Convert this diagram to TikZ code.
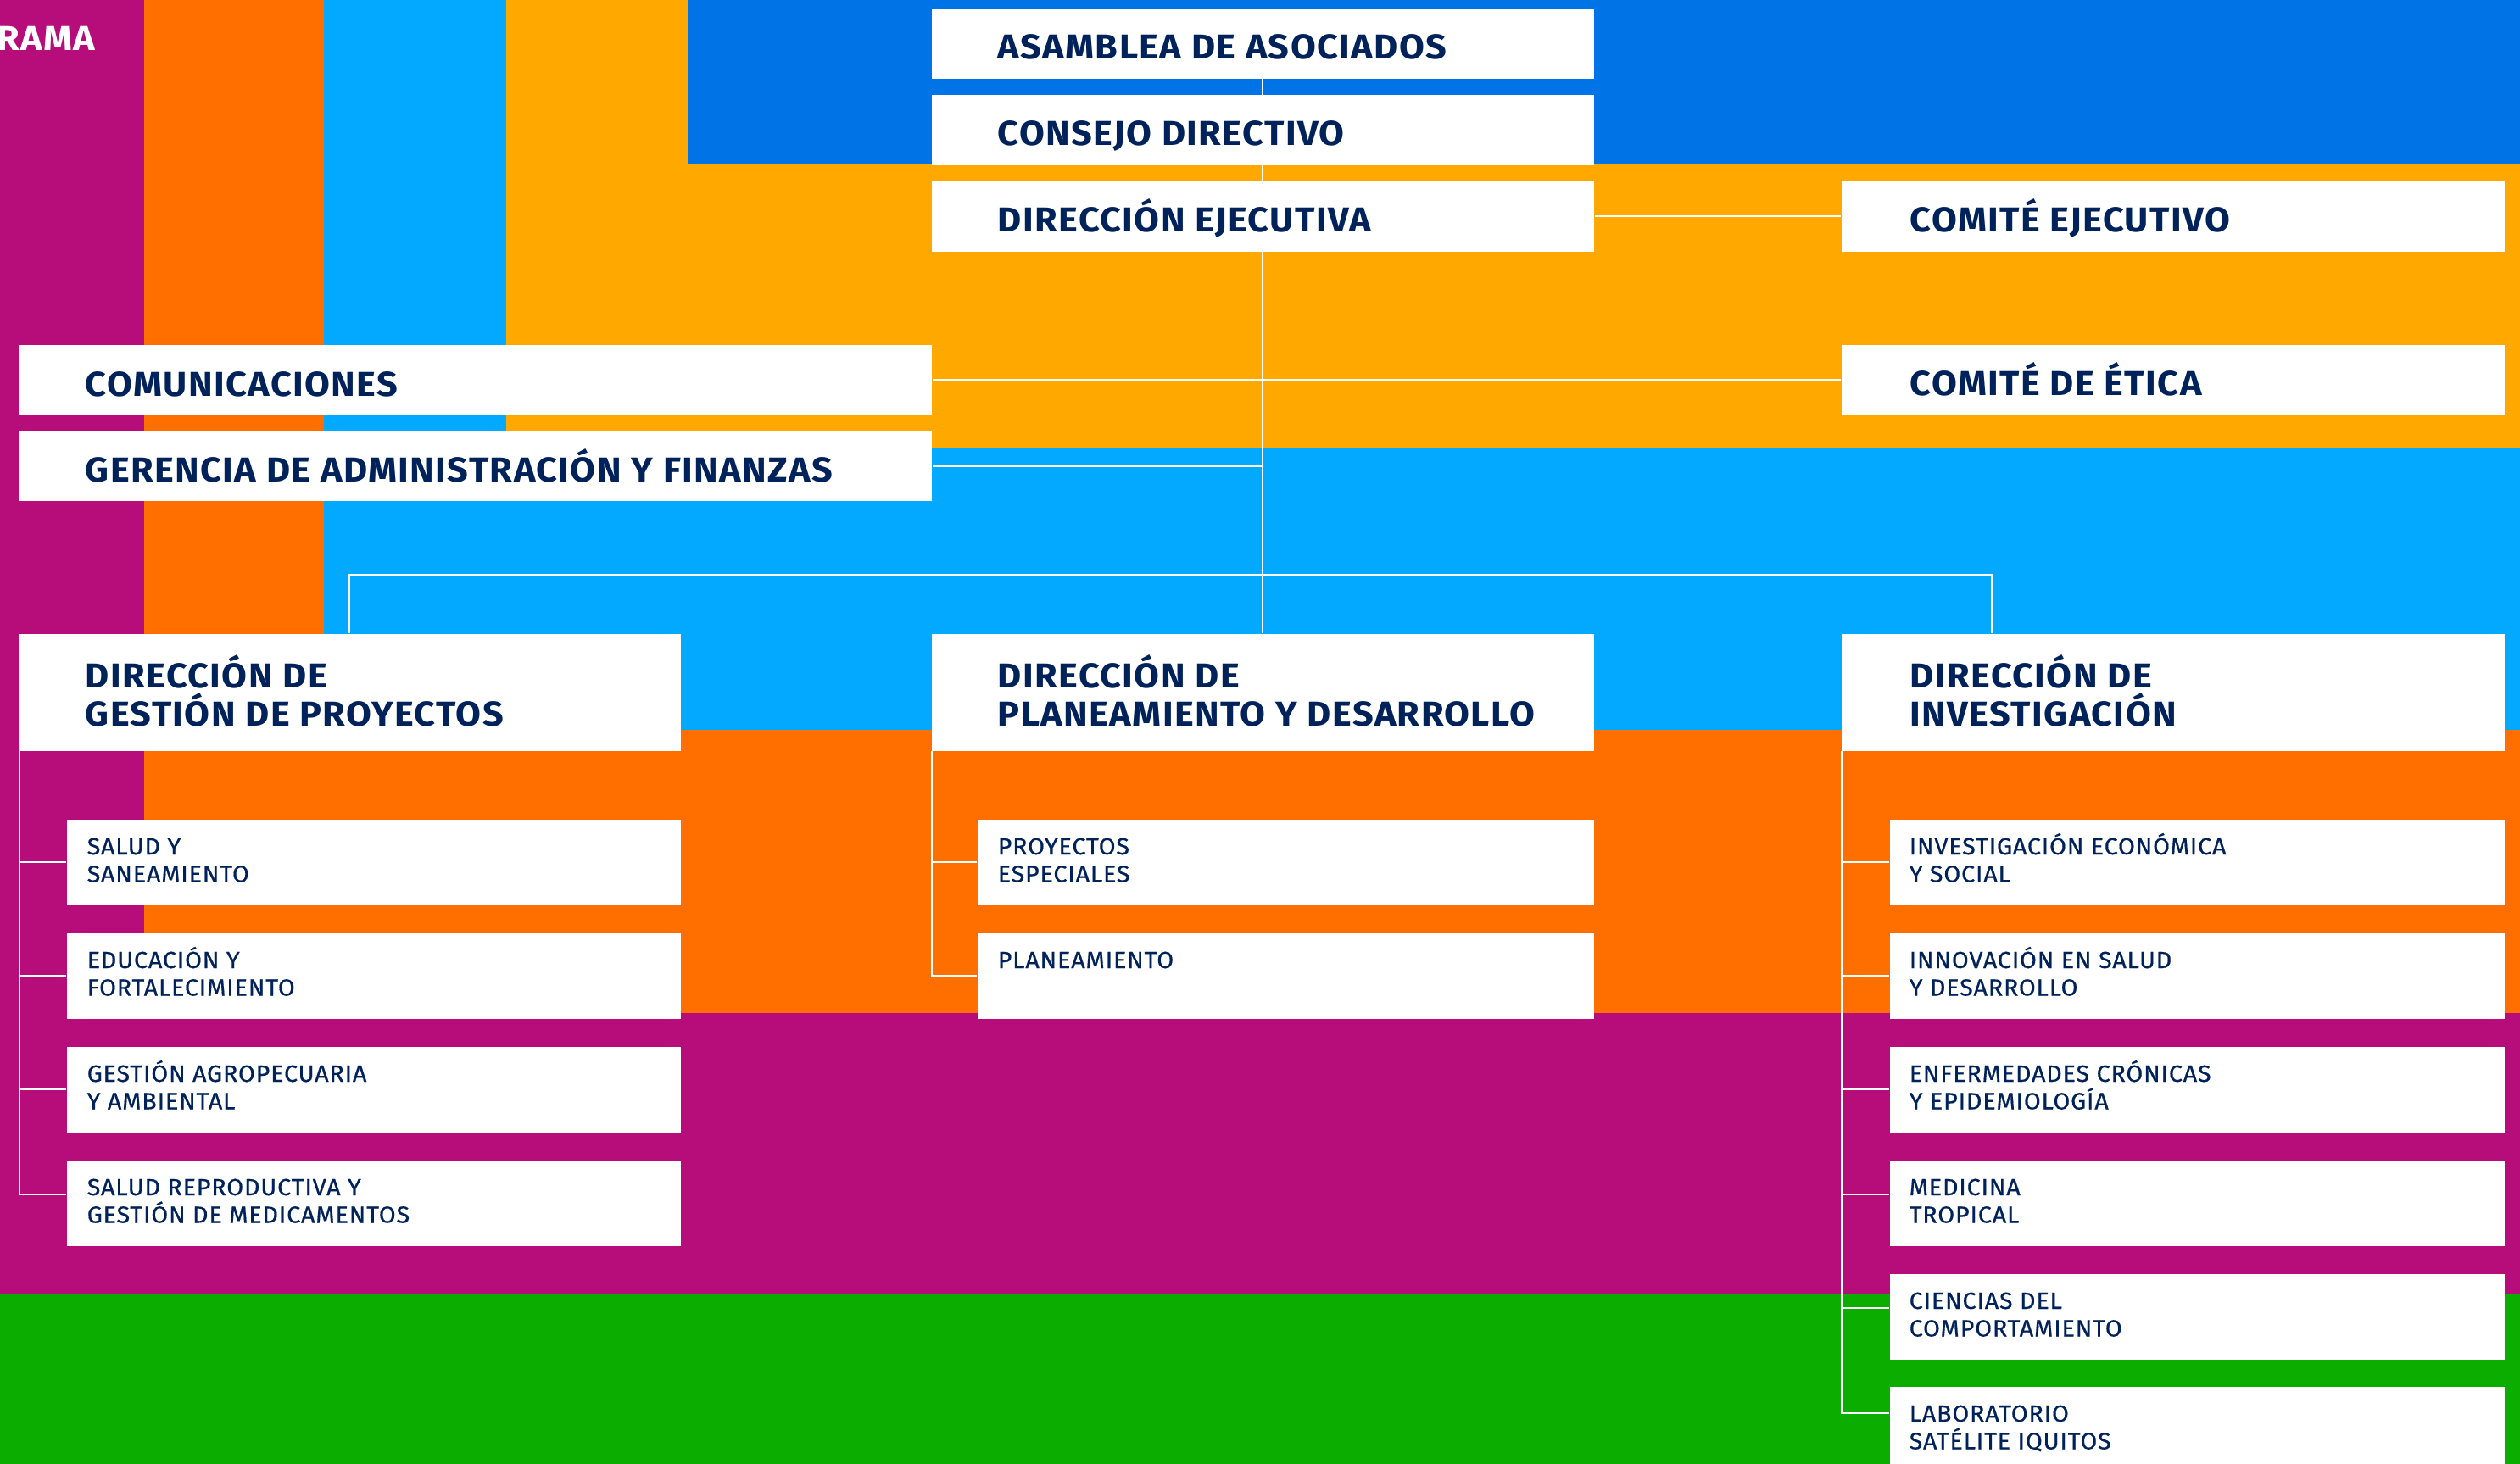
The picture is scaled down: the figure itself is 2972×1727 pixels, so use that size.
\documentclass[tikz,border=0pt]{standalone}
\usepackage{fontspec}
\setmainfont{Fira Sans}
\newfontfamily\hdfont{Fira Sans}[LetterSpace=3.5,FakeStretch=1.06]
\newfontfamily\sbfont{Fira Sans}[LetterSpace=3,FakeStretch=1.04,FakeBold=0.5]
\usetikzlibrary{calc}
\definecolor{cblue}{HTML}{0073E6}
\definecolor{camber}{HTML}{FFA800}
\definecolor{ccyan}{HTML}{03A8FF}
\definecolor{corange}{HTML}{FF6F00}
\definecolor{cpurple}{HTML}{B70D7B}
\definecolor{cgreen}{HTML}{0BAE00}
\definecolor{navy}{HTML}{00225B}
\pgfdeclarelayer{bg}
\pgfdeclarelayer{ln}
\pgfsetlayers{bg,ln,main}
\newcommand\twoline[2]{\begin{tabular}[t]{@{}l@{}}\smash{#1}\\\smash{#2}\end{tabular}}
\begin{document}
\begin{tikzpicture}[x=0.01cm,y=-0.01cm,
  box/.style={rectangle,draw=none,fill=white,inner sep=0pt,anchor=north west},
  hd/.style={anchor=base west,inner sep=0pt,text=navy,font=\fontsize{11.6}{12.8}\selectfont\hdfont\bfseries},
  sb/.style={anchor=base west,inner sep=0pt,text=navy,font=\fontsize{7.85}{9.24}\selectfont\sbfont},
  conn/.style={draw=white,line width=0.02cm}]
\useasboundingbox (0,0) rectangle (2972,1727);
% background bands
\begin{pgfonlayer}{bg}
\fill[cgreen] (0,0) rectangle (2972,1727);
\fill[cpurple] (0,0) rectangle (2972,1527);
\fill[corange] (170,0) rectangle (2972,1195);
\fill[ccyan] (382,0) rectangle (2972,861);
\fill[camber] (597,0) rectangle (2972,528);
\fill[cblue] (811,0) rectangle (2972,194);
\end{pgfonlayer}
\node[hd,text=white,anchor=base east] (rama) at (113,59) {RAMA};
% main boxes
\node[box,minimum width=7.81cm,minimum height=0.82cm] (asam) at (1098,10) {};
\node[box,minimum width=7.81cm,minimum height=0.83cm] (cons) at (1098,111) {};
\node[box,minimum width=7.81cm,minimum height=0.83cm] (dej) at (1098,213) {};
\node[box,minimum width=7.82cm,minimum height=0.83cm] (cej) at (2171,213) {};
\node[box,minimum width=10.77cm,minimum height=0.83cm] (com) at (21,406) {};
\node[box,minimum width=7.82cm,minimum height=0.83cm] (etica) at (2171,406) {};
\node[box,minimum width=10.77cm,minimum height=0.82cm] (gaf) at (21,508) {};
\node[box,minimum width=7.81cm,minimum height=1.38cm] (gdp) at (21,747) {};
\node[box,minimum width=7.81cm,minimum height=1.38cm] (pd) at (1098,747) {};
\node[box,minimum width=7.82cm,minimum height=1.38cm] (inv) at (2171,747) {};
% sub boxes
\node[box,minimum width=7.24cm,minimum height=1.01cm] (gs1) at (78,966) {};
\node[box,minimum width=7.24cm,minimum height=1.01cm] (gs2) at (78,1100) {};
\node[box,minimum width=7.24cm,minimum height=1.01cm] (gs3) at (78,1234) {};
\node[box,minimum width=7.24cm,minimum height=1.01cm] (gs4) at (78,1368) {};
\node[box,minimum width=7.27cm,minimum height=1.01cm] (ps1) at (1152,966) {};
\node[box,minimum width=7.27cm,minimum height=1.01cm] (ps2) at (1152,1100) {};
\node[box,minimum width=7.25cm,minimum height=1.01cm] (is1) at (2228,966) {};
\node[box,minimum width=7.25cm,minimum height=1.01cm] (is2) at (2228,1100) {};
\node[box,minimum width=7.25cm,minimum height=1.01cm] (is3) at (2228,1234) {};
\node[box,minimum width=7.25cm,minimum height=1.01cm] (is4) at (2228,1368) {};
\node[box,minimum width=7.25cm,minimum height=1.01cm] (is5) at (2228,1502) {};
\node[box,minimum width=7.25cm,minimum height=1.01cm] (is6) at (2228,1635) {};
% heading texts
\node[hd] (asam-t) at ($(asam.north west)+(78,59.5)$) {ASAMBLEA DE ASOCIADOS};
\node[hd] (cons-t) at ($(cons.north west)+(78,60)$) {CONSEJO DIRECTIVO};
\node[hd] (dej-t) at ($(dej.north west)+(78,60)$) {DIRECCIÓN EJECUTIVA};
\node[hd] (cej-t) at ($(cej.north west)+(81,60)$) {COMITÉ EJECUTIVO};
\node[hd] (com-t) at ($(com.north west)+(79,61)$) {COMUNICACIONES};
\node[hd] (etica-t) at ($(etica.north west)+(81,60)$) {COMITÉ DE ÉTICA};
\node[hd] (gaf-t) at ($(gaf.north west)+(79,60)$) {GERENCIA DE ADMINISTRACIÓN Y FINANZAS};
\node[hd] (gdp-t) at ($(gdp.north west)+(79,64)$) {\twoline{DIRECCIÓN DE}{GESTIÓN DE PROYECTOS}};
\node[hd] (pd-t) at ($(pd.north west)+(78,64)$) {\twoline{DIRECCIÓN DE}{PLANEAMIENTO Y DESARROLLO}};
\node[hd] (inv-t) at ($(inv.north west)+(81,64)$) {\twoline{DIRECCIÓN DE}{INVESTIGACIÓN}};
% sub texts
\node[sb] (gs1-t) at ($(gs1.north west)+(24,42)$) {\twoline{SALUD Y}{SANEAMIENTO}};
\node[sb] (gs2-t) at ($(gs2.north west)+(24,42)$) {\twoline{EDUCACIÓN Y}{FORTALECIMIENTO}};
\node[sb] (gs3-t) at ($(gs3.north west)+(24,42)$) {\twoline{GESTIÓN AGROPECUARIA}{Y AMBIENTAL}};
\node[sb] (gs4-t) at ($(gs4.north west)+(24,42)$) {\twoline{SALUD REPRODUCTIVA Y}{GESTIÓN DE MEDICAMENTOS}};
\node[sb] (ps1-t) at ($(ps1.north west)+(24,42)$) {\twoline{PROYECTOS}{ESPECIALES}};
\node[sb] (ps2-t) at ($(ps2.north west)+(24,42)$) {PLANEAMIENTO};
\node[sb] (is1-t) at ($(is1.north west)+(23,42)$) {\twoline{INVESTIGACIÓN ECONÓMICA}{Y SOCIAL}};
\node[sb] (is2-t) at ($(is2.north west)+(23,42)$) {\twoline{INNOVACIÓN EN SALUD}{Y DESARROLLO}};
\node[sb] (is3-t) at ($(is3.north west)+(23,42)$) {\twoline{ENFERMEDADES CRÓNICAS}{Y EPIDEMIOLOGÍA}};
\node[sb] (is4-t) at ($(is4.north west)+(23,42)$) {\twoline{MEDICINA}{TROPICAL}};
\node[sb] (is5-t) at ($(is5.north west)+(23,42)$) {\twoline{CIENCIAS DEL}{COMPORTAMIENTO}};
\node[sb] (is6-t) at ($(is6.north west)+(23,42)$) {\twoline{LABORATORIO}{SATÉLITE IQUITOS}};
% connectors
\begin{pgfonlayer}{ln}
\draw[conn] (asam.south) -- (pd.north);
\draw[conn] (dej.east) -- (cej.west);
\draw[conn] (com.east) -- (etica.west);
\draw[conn] (gaf.east) -- (gaf.east -| asam.south);
\coordinate (jr) at (2349,677.5);
\draw[conn] (gdp.north) |- (jr) -- (jr |- inv.north);
\coordinate (gl) at ($(gdp.south west)+(2,0)$);
\coordinate (g4t) at ([yshift=0.105cm]gs4.west);
\draw[conn] (gl) |- (g4t);
\foreach \n in {gs1,gs2,gs3} \draw[conn] (gl |- \n.west) -- (\n.west);
\coordinate (pl) at ($(pd.south west)+(1,0)$);
\draw[conn] (pl) |- (ps2.west);
\draw[conn] (pl |- ps1.west) -- (ps1.west);
\coordinate (il) at ($(inv.south west)+(1,0)$);
\coordinate (i4t) at ([yshift=0.1cm]is4.west);
\coordinate (i5t) at ([yshift=0.1cm]is5.west);
\coordinate (i6t) at ([yshift=0.195cm]is6.west);
\draw[conn] (il) |- (i6t);
\foreach \n in {is1,is2,is3} \draw[conn] (il |- \n.west) -- (\n.west);
\draw[conn] (il |- i4t) -- (i4t);
\draw[conn] (il |- i5t) -- (i5t);
\end{pgfonlayer}
\end{tikzpicture}
\end{document}
